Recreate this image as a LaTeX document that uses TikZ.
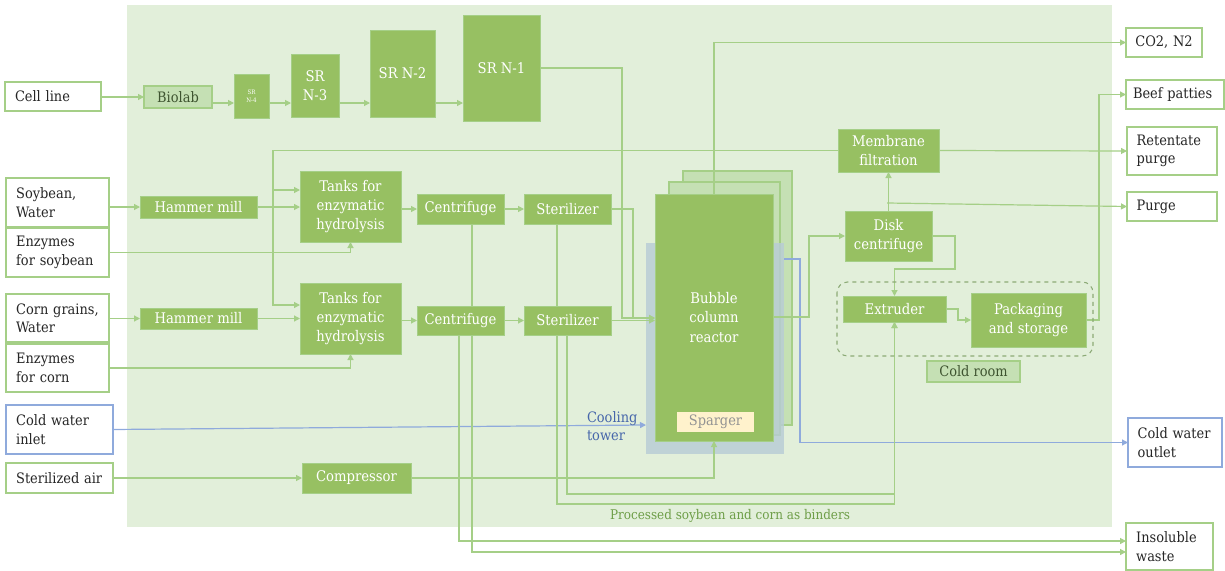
\documentclass[tikz,border=0pt]{standalone}
\usepackage{fontspec}
\setmainfont{DejaVu Serif Condensed}
\usetikzlibrary{arrows.meta}

\definecolor{bgG}{RGB}{226,239,218}
\definecolor{procG}{RGB}{151,192,98}
\definecolor{lightG}{RGB}{197,224,180}
\definecolor{lineG}{RGB}{165,207,135}
\definecolor{dashG}{RGB}{140,170,118}
\definecolor{darkG}{RGB}{62,84,48}
\definecolor{bindG}{RGB}{110,158,72}
\definecolor{waterB}{RGB}{143,170,220}
\definecolor{coolB}{RGB}{70,102,170}
\definecolor{jacketC}{RGB}{184,204,214}
\definecolor{spargerC}{RGB}{255,242,204}
\definecolor{inkC}{RGB}{38,38,38}

\pgfdeclarelayer{back}
\pgfdeclarelayer{wires}
\pgfsetlayers{back,wires,main}

\hyphenpenalty=10000
\exhyphenpenalty=10000

\tikzset{
  every node/.style={inner sep=0pt, outer sep=0pt},
  % place a box by its corners (x1/y1/x2/y2, picture units)
  corners/.style args={#1/#2/#3/#4}{at={(#1/2+#3/2,#2/2+#4/2)}, anchor=center,
    minimum width={(#3-#1)*0.75pt}, minimum height={(#4-#2)*0.75pt}},
  txt/.style={font=\fontsize{10.8}{13.8}\selectfont},
  proctxt/.style={font=\fontsize{11}{14.5}\selectfont},
  proc/.style={proctxt, fill=procG, draw=lineG, line width=0.6pt, text=white, align=center},
  lightbox/.style={txt, fill=lightG, draw=lineG, line width=0.8pt, text=darkG, align=center},
  iobox/.style={txt, fill=white, draw=lineG, line width=1pt, text=inkC, align=left, text width=#1},
  waterbox/.style={iobox=#1, draw=waterB},
  backcopy/.style={fill=lightG, draw=lineG, line width=0.8pt},
  jacketbox/.style={fill=jacketC, fill opacity=0.82, draw=none},
  wire/.style={draw=lineG, line width=0.9pt},
  arr/.style={wire, -{Triangle[length=4.5pt,width=4.5pt]}},
  barr/.style={draw=waterB, line width=0.9pt, -{Triangle[length=4.5pt,width=4.5pt]}},
}

\begin{document}
\begin{tikzpicture}[x=0.75pt,y=-0.75pt]
\useasboundingbox (0,0) rectangle (1225,571);

% plant area, reactor train copies and cooling jacket
\begin{pgfonlayer}{back}
  \fill[bgG] (127,5) rectangle (1112,527);
  \node[backcopy, corners=683/171/792/425] (copyB) {};
  \node[backcopy, corners=669/182/780/435] (copyA) {};
  \node[jacketbox, corners=646/243/784/454] (jacket) {};
\end{pgfonlayer}

% inputs
\node[iobox=57pt, corners=5/82/101/111] (cell) {Cell line};
\node[iobox=62pt, corners=6/178/109/227] (soy) {Soybean,\\Water};
\node[iobox=62pt, corners=6/228/109/277] (enzs) {Enzymes\\for soybean};
\node[iobox=62pt, corners=6/294/109/342] (corn) {Corn grains,\\Water};
\node[iobox=62pt, corners=6/344/109/392] (enzc) {Enzymes\\for corn};
\node[waterbox=65pt, corners=6/405/113/454] (cwin) {Cold water\\inlet};
\node[iobox=65pt, corners=6/463/113/493] (air) {Sterilized air};

% outputs
\node[iobox=43pt, corners=1126/28/1202/57] (co2) {CO2, N2};
\node[iobox=63pt, corners=1126/80/1224/109] (beef) {Beef patties};
\node[iobox=53pt, corners=1127/127/1217/175] (ret) {Retentate\\purge};
\node[iobox=53pt, corners=1127/192/1217/221] (purge) {Purge};
\node[waterbox=56pt, corners=1128/418/1222/467] (cwout) {Cold water\\outlet};
\node[iobox=50pt, corners=1126/523/1213/570] (waste) {Insoluble\\waste};

% seed train
\node[lightbox, corners=144/86/212/108] (biolab) {Biolab};
\node[proc, font=\fontsize{4.6}{6}\selectfont, corners=234/74/269/118] (sr4) {SR\\N-4};
\node[proc, corners=291/54/339/117] (sr3) {SR\\N-3};
\node[proc, corners=370/30/435/117] (sr2) {SR N-2};
\node[proc, corners=463/15/540/121] (sr1) {SR N-1};

% media preparation
\node[proc, corners=140/196/257/218] (hm1) {Hammer mill};
\node[proc, corners=140/308/257/329] (hm2) {Hammer mill};
\node[proc, corners=300/171/401/242] (tk1) {Tanks for\\enzymatic\\hydrolysis};
\node[proc, corners=300/283/401/354] (tk2) {Tanks for\\enzymatic\\hydrolysis};
\node[proc, corners=417/194/504/224] (cf1) {Centrifuge};
\node[proc, corners=417/306/504/335] (cf2) {Centrifuge};
\node[proc, corners=524/194/611/224] (st1) {Sterilizer};
\node[proc, corners=524/306/611/335] (st2) {Sterilizer};
\node[proc, corners=302/463/411/493] (comp) {Compressor};

% production and downstream
\node[proc, corners=655/194/773/441] (reactor) {Bubble\\column\\reactor};
\node[txt, fill=spargerC, text=gray!85, corners=677/412/754/432] (sparger) {Sparger};
\node[proc, corners=838/129/939/172] (mem) {Membrane\\filtration};
\node[proc, corners=845/211/932/261] (disk) {Disk\\centrifuge};
\node[proc, corners=843/296/946/322] (ext) {Extruder};
\node[proc, corners=971/293/1086/347] (pack) {Packaging\\and storage};
\draw[dashG, dashed, line width=0.8pt, rounded corners=8pt] (837,282) rectangle (1093,356);
\node[lightbox, corners=927/361/1020/382] (coldroom) {Cold room};

% labels
\node[txt, text=coolB, align=left, anchor=west] (cool) at (587,426) {Cooling\\tower};
\node[font=\fontsize{10}{12}\selectfont, text=bindG] (binders) at (730,516) {Processed soybean and corn as binders};

% bend points
\coordinate (srrow) at (0,103);
\coordinate (j1) at (622,318);
\coordinate (j2) at (633,318);
\coordinate (rmid) at (273,190);
\coordinate (rbot) at (273,305);
\coordinate (coolrow) at (0,425);
\coordinate (cwo) at (800,259);
\coordinate (rd) at (809,317);
\coordinate (pj) at (887,203);
\coordinate (de) at (955,269);
\coordinate (ep) at (958,309);
\coordinate (pb) at (1099,320);
\coordinate (b1) at (557,504);
\coordinate (b2) at (567,494);
\coordinate (w1) at (472,552);
\coordinate (w2) at (459,541);

\begin{pgfonlayer}{wires}
  % seed train
  \draw[arr] (cell.east |- biolab.west) -- (biolab.west);
  \draw[arr] (biolab.east |- srrow) -- (sr4.west |- srrow);
  \draw[arr] (sr4.east |- srrow) -- (sr3.west |- srrow);
  \draw[arr] (sr3.east |- srrow) -- (sr2.west |- srrow);
  \draw[arr] (sr2.east |- srrow) -- (sr1.west |- srrow);
  \draw[arr] (sr1.east) -| (j1) -- (reactor.west |- j1);
  % media
  \draw[arr] (soy.east |- hm1.west) -- (hm1.west);
  \draw[arr] (hm1.east) -- (tk1.west |- hm1.east);
  \draw[arr] (enzs.east) -| (tk1.south);
  \draw[arr] (corn.east |- hm2.west) -- (hm2.west);
  \draw[arr] (hm2.east) -- (tk2.west |- hm2.east);
  \draw[arr] (enzc.east) -| (tk2.south);
  \draw[arr] (mem.west) -| (rbot) -- (rbot -| tk2.west);
  \draw[arr] (rmid) -- (rmid -| tk1.west);
  \draw[arr] (tk1.east |- cf1.west) -- (cf1.west);
  \draw[arr] (cf1.east) -- (st1.west);
  \draw[arr] (tk2.east |- cf2.west) -- (cf2.west);
  \draw[arr] (cf2.east) -- (st2.west);
  \draw[arr] (st1.east) -| (j2) -- (reactor.west |- j2);
  \draw[arr] (st2.east) -- (reactor.west |- st2.east);
  % air and cooling water
  \draw[arr] (air.east) -- (comp.west);
  \draw[arr] (comp.east) -| (reactor.south);
  \draw[barr] (cwin.east) -- (jacket.west |- coolrow);
  \draw[barr] (jacket.east |- cwo) -- (cwo) |- (cwout.west);
  % downstream
  \draw[arr] (reactor.north) |- (co2.west);
  \draw[arr] (reactor.east |- rd) -- (rd) |- (disk.west);
  \draw[arr] (disk.north) -- (mem.south);
  \draw[arr] (pj) -- (purge.west);
  \draw[arr] (mem.east) -- (ret.west);
  \draw[arr] (disk.east) -| (de) -| (ext.north);
  \draw[arr] (ext.east) -- (ep) |- (pack.west);
  \draw[arr] (pack.east) -- (pb) |- (beef.west);
  % binders and solids
  \draw[arr] (st1.south -| b1) -- (b1) -| (ext.south);
  \draw[arr] (st2.south -| b2) -- (b2) -| (ext.south);
  \draw[arr] (cf1.south -| w1) -- (w1) -- (w1 -| waste.west);
  \draw[arr] (cf2.south -| w2) -- (w2) -- (w2 -| waste.west);
\end{pgfonlayer}
\end{tikzpicture}
\end{document}
